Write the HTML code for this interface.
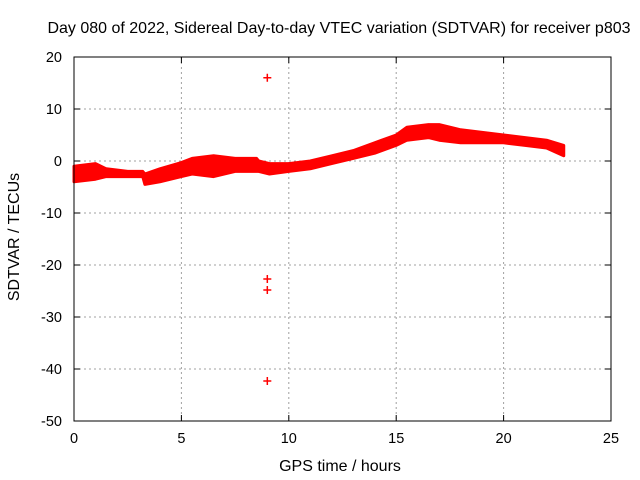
<!DOCTYPE html>
<html><head><meta charset="utf-8"><style>
body{margin:0;background:#fff;}
svg{display:block;font-family:"Liberation Sans",sans-serif;font-size:14.5px;}
.ttl{font-size:16px;}
</style></head><body>
<svg id="chart" width="640" height="480">
<text class="ttl" x="339" y="33" text-anchor="middle">Day 080 of 2022, Sidereal Day-to-day VTEC variation (SDTVAR) for receiver p803</text>
<text class="ttl" x="340" y="471" text-anchor="middle">GPS time / hours</text>
<text class="ttl" transform="translate(19,237) rotate(-90)" text-anchor="middle">SDTVAR / TECUs</text>
<g id="grid"></g><g id="data"></g>
<rect x="74" y="57" width="537" height="364" fill="none" stroke="#000"/>
</svg>
<script>
const xTicks=[0,5,10,15,20,25];
const yTicks=[20,10,0,-10,-20,-30,-40,-50];
const hours=[0,1,1.5,2.5,3.2,3.3,4,5,5.5,6.5,7.5,8.5,8.6,9.1,10,11,12,13,14,15,15.5,16.5,17,18,19,20,21,22,22.8];
const upper=[-1,-0.5,-1.5,-2,-2,-2.5,-1.5,-0.3,0.5,1,0.5,0.5,0,-0.5,-0.5,0,1,2,3.5,5,6.5,7,7,6,5.5,5,4.5,4,3];
const lower=[-4,-3.5,-3,-3,-3,-4.5,-4,-3,-2.5,-3,-2,-2,-2,-2.5,-2,-1.5,-0.5,0.5,1.5,3,4,4.5,4,3.5,3.5,3.5,3,2.5,1];
const outlierX=[9,9,9,9];
const outlierY=[16,-22.7,-24.8,-42.3];
const X=h=>74+h*(537/25);
const Y=v=>57+(20-v)*(364/70);
const NS='http://www.w3.org/2000/svg';
const g=document.getElementById('grid'),d=document.getElementById('data');
function mk(t,a,p){const e=document.createElementNS(NS,t);for(const k in a)e.setAttribute(k,a[k]);p.appendChild(e);return e;}
xTicks.forEach(t=>{const x=X(t);
 if(t>0&&t<25){const l=mk('line',{x1:x,x2:x,y1:57,y2:421,stroke:'#a0a0a0','stroke-dasharray':'2,3'},g);
 
 }
 mk('line',{x1:x,x2:x,y1:421,y2:415,stroke:'#000'},g);mk('line',{x1:x,x2:x,y1:57,y2:63,stroke:'#000'},g);
 const tx=mk('text',{x:x,y:443,'text-anchor':'middle'},g);tx.textContent=t;
 
 });
yTicks.forEach(t=>{const y=Y(t);
 if(t<20&&t>-50){const l=mk('line',{x1:74,x2:611,y1:y,y2:y,stroke:'#a0a0a0','stroke-dasharray':'2,3'},g);
 
 }
 mk('line',{x1:74,x2:80,y1:y,y2:y,stroke:'#000'},g);mk('line',{x1:611,x2:605,y1:y,y2:y,stroke:'#000'},g);
 const tx=mk('text',{x:62,y:y+5,'text-anchor':'end'},g);tx.textContent=t;
 
 });
let pts=hours.map((h,i)=>X(h)+','+Y(upper[i]));
for(let i=hours.length-1;i>=0;i--)pts.push(X(hours[i])+','+Y(lower[i]));
const band=mk('polygon',{points:pts.join(' '),fill:'#ff0000',stroke:'#ff0000','stroke-width':3,'stroke-linejoin':'round'},d);


outlierX.forEach((h,i)=>{const x=X(h),y=Y(outlierY[i]);
 const p=mk('path',{d:`M${x-4},${y}H${x+4}M${x},${y-4}V${y+4}`,stroke:'#ff0000','stroke-width':1.5},d);
 
 });
</script>
</body></html>
